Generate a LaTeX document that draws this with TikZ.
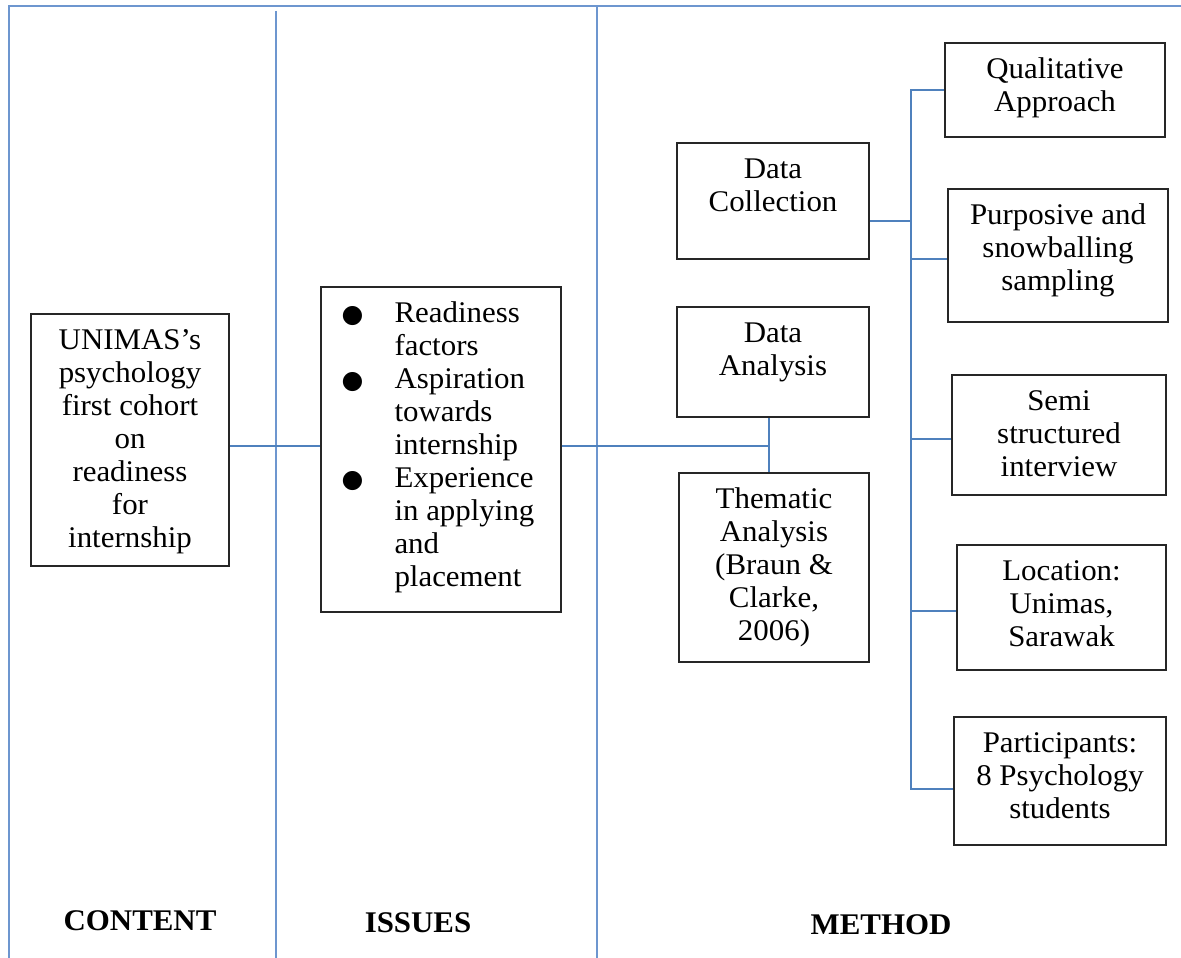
\documentclass[tikz,border=0pt]{standalone}
\usepackage{fontspec}
\setmainfont{Liberation Serif}[FakeStretch=1.03]
\newfontfamily\dejavu{DejaVu Sans}
\definecolor{wordblue}{HTML}{4F81BD}
\definecolor{framebl}{HTML}{6D96CF}
\newcommand{\bx}[3]{\parbox[c][#2][t]{#1}{\centering\rule{0pt}{35pt}#3\par}}
\newcommand{\bul}{\makebox[74pt][l]{\hspace*{21pt}{\dejavu\fontsize{25}{33}\selectfont ●}}}
\newcommand{\ind}{\hspace*{74pt}}
\tikzset{
  box/.style={draw=black!85, line width=2pt, inner sep=0pt, anchor=north west,
    font=\fontsize{30}{33}\selectfont},
  conn/.style={draw=wordblue, line width=1.7pt},
  frame/.style={draw=framebl, line width=2.4pt},
  head/.style={anchor=base, inner sep=0pt, font=\fontsize{30}{33}\selectfont\bfseries}
}
\begin{document}
\begin{tikzpicture}[x=1pt,y=-1pt]
\useasboundingbox (0,0) rectangle (1181,958);
% frame and dividers
\draw[frame] (1181,6) -- (9,6) -- (9,958);
\draw[frame] (276,11) -- (276,958);
\draw[frame] (597,6) -- (597,958);
% boxes
\node[box] (uni) at (30,313) {\bx{198pt}{252pt}{UNIMAS’s\\psychology\\first cohort\\on\\readiness\\for\\internship}};
\node[box] (iss) at (319.5,286) {\parbox[c][325pt][t]{240pt}{\raggedright\rule{0pt}{35pt}\bul Readiness\\\ind factors\\\bul Aspiration\\\ind towards\\\ind internship\\\bul Experience\\\ind in applying\\\ind and\\\ind placement\par}};
\node[box] (dc) at (676,142) {\bx{192pt}{116pt}{Data\\Collection}};
\node[box] (da) at (676,306) {\bx{192pt}{110pt}{Data\\Analysis}};
\node[box] (th) at (678,472) {\bx{190pt}{189pt}{Thematic\\Analysis\\(Braun \&\\Clarke,\\2006)}};
\node[box] (qa) at (944,42) {\bx{220pt}{94pt}{Qualitative\\Approach}};
\node[box] (ps) at (947,188) {\bx{220pt}{133pt}{Purposive and\\snowballing\\sampling}};
\node[box] (ss) at (951,374) {\bx{214pt}{120pt}{Semi\\structured\\interview}};
\node[box] (loc) at (956,544) {\bx{209pt}{125pt}{Location:\\Unimas,\\Sarawak}};
\node[box] (par) at (953,716) {\bx{212pt}{128pt}{Participants:\\8 Psychology\\students}};
% headings
\node[head] (h1) at (140,930) {CONTENT};
\node[head] (h2) at (418,932) {ISSUES};
\node[head] (h3) at (881,934) {METHOD};
% connectors
\coordinate (m1) at (0,446);
\coordinate (bus) at (911,0);
\coordinate (ax) at (769,0);
\draw[conn] (uni.east |- m1) -- (iss.west |- m1);
\draw[conn] (iss.east |- m1) -- (ax |- m1);
\draw[conn] (da.south -| ax) -- (th.north -| ax);
\draw[conn] ([yshift=-20pt]dc.east) -- ([yshift=-20pt]dc.east -| bus);
\draw[conn] (qa.west) -- (qa.west -| bus) -- ([yshift=-8pt]par.west -| bus) -- ([yshift=-8pt]par.west);
\draw[conn] ([yshift=-3.5pt]ps.west) -- ([yshift=-3.5pt]ps.west -| bus);
\draw[conn] ([yshift=-4pt]ss.west) -- ([yshift=-4pt]ss.west -| bus);
\draw[conn] ([yshift=-3.5pt]loc.west) -- ([yshift=-3.5pt]loc.west -| bus);
\end{tikzpicture}
\end{document}
